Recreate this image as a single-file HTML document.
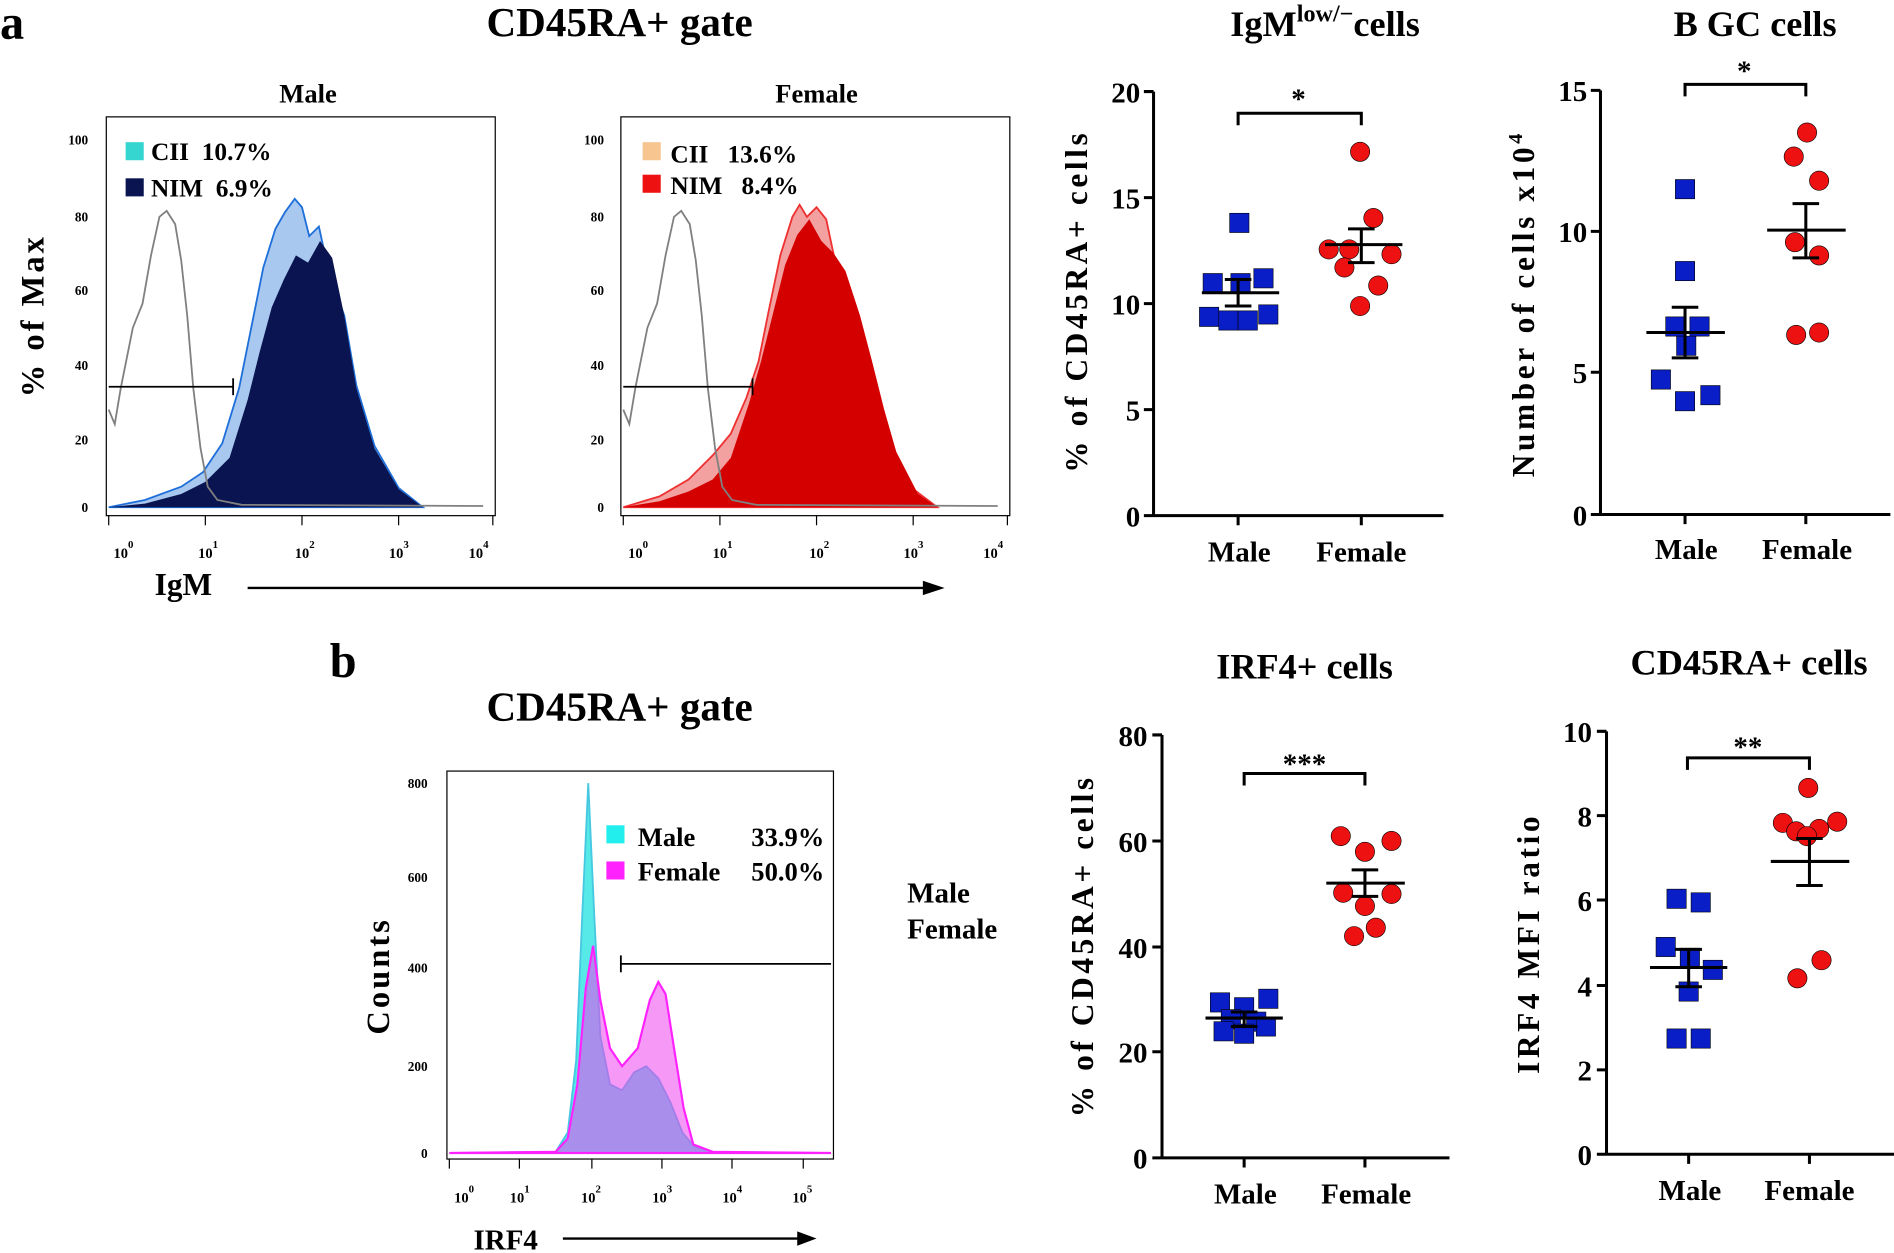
<!DOCTYPE html>
<html><head><meta charset="utf-8"><style>
html,body{margin:0;padding:0;background:#fff;}
svg{display:block;}
text{font-family:"Liberation Serif",serif;font-weight:bold;fill:#000;}
.yl{letter-spacing:2.5px;}
</style></head><body>
<svg width="1894" height="1253" viewBox="0 0 1568 1040" preserveAspectRatio="none" xmlns="http://www.w3.org/2000/svg">
<rect width="1568" height="1040" fill="#fff"/>
<text x="0" y="32" font-size="40">a</text>
<text x="513" y="30" font-size="34" text-anchor="middle">CD45RA+ gate</text>
<text x="255" y="85" font-size="22" text-anchor="middle">Male</text>
<text x="676" y="85" font-size="22" text-anchor="middle">Female</text>
<text class="yl" transform="translate(36,262) rotate(-90)" font-size="27" text-anchor="middle">% of Max</text>

<g>
<path d="M90,421 L120,415 L150,404 L168,392 L184,368 L198,322 L208,272 L218,222 L228,190 L236,176 L244,165 L250,172 L256,196 L264,188 L272,225 L285,262 L295,320 L310,370 L330,405 L350,421 Z" fill="#a9c8ef" stroke="#1e6fd9" stroke-width="1.5"/>
<path d="M90,421 L120,418 L150,410 L170,400 L190,380 L205,332 L215,292 L225,255 L235,232 L245,212 L255,218 L265,200 L275,214 L285,262 L295,322 L310,372 L330,406 L350,421 Z" fill="#0a1450"/>
<path d="M90,340 L95,352 L100,322 L110,272 L118,252 L125,212 L132,180 L138,175 L145,186 L150,216 L155,262 L160,322 L166,372 L172,404 L180,415 L200,419 L400,420" fill="none" stroke="#808080" stroke-width="1.5"/>
<line x1="90" y1="321" x2="193" y2="321" stroke="#000" stroke-width="1.5"/>
<line x1="193" y1="314" x2="193" y2="328" stroke="#000" stroke-width="1.5"/>
<rect x="88" y="97" width="322" height="331" fill="none" stroke="#000" stroke-width="1"/>
<rect x="104" y="118" width="15" height="15" fill="#36d6d0"/>
<text x="125" y="133" font-size="21">CII&#160;&#160;10.7%</text>
<rect x="104" y="148" width="15" height="15" fill="#0a1450"/>
<text x="125" y="163" font-size="21">NIM&#160;&#160;6.9%</text>
<g font-size="11" text-anchor="end" font-weight="normal">
<text x="73" y="120">100</text><text x="73" y="184">80</text><text x="73" y="245">60</text><text x="73" y="307">40</text><text x="73" y="369">20</text><text x="73" y="425">0</text></g>
</g>
<g>
<path d="M516,421 L546,412 L570,398 L590,378 L605,360 L618,330 L628,300 L636,260 L646,212 L656,180 L662,170 L668,180 L676,172 L684,182 L692,220 L704,262 L716,300 L728,340 L742,378 L756,406 L776,421 Z" fill="#f2a0a0" stroke="#ee3030" stroke-width="1.5"/>
<path d="M516,421 L546,416 L570,408 L590,398 L605,380 L620,335 L630,300 L640,260 L650,220 L660,195 L670,182 L680,200 L690,210 L700,225 L712,262 L722,300 L732,340 L742,375 L760,410 L776,421 Z" fill="#d40000"/>
<path d="M516,340 L521,352 L526,322 L536,272 L544,252 L551,212 L558,180 L564,175 L571,186 L576,216 L581,262 L586,322 L592,372 L598,404 L606,415 L626,419 L826,420" fill="none" stroke="#808080" stroke-width="1.5"/>
<line x1="516" y1="321" x2="623" y2="321" stroke="#000" stroke-width="1.5"/>
<line x1="623" y1="314" x2="623" y2="328" stroke="#000" stroke-width="1.5"/>
<rect x="514" y="97" width="322" height="331" fill="none" stroke="#000" stroke-width="1"/>
<rect x="532" y="118" width="15" height="15" fill="#f7c58f"/>
<text x="555" y="135" font-size="21">CII&#160;&#160;&#160;13.6%</text>
<rect x="532" y="145" width="15" height="15" fill="#ee1111"/>
<text x="555" y="161" font-size="21">NIM&#160;&#160;&#160;8.4%</text>
<g font-size="11" text-anchor="end" font-weight="normal">
<text x="500" y="120">100</text><text x="500" y="184">80</text><text x="500" y="245">60</text><text x="500" y="307">40</text><text x="500" y="369">20</text><text x="500" y="425">0</text></g>
</g>
<g font-size="12" font-weight="normal">
<text x="94" y="463">10<tspan dy="-8" font-size="9">0</tspan></text>
<text x="164" y="463">10<tspan dy="-8" font-size="9">1</tspan></text>
<text x="244" y="463">10<tspan dy="-8" font-size="9">2</tspan></text>
<text x="322" y="463">10<tspan dy="-8" font-size="9">3</tspan></text>
<text x="388" y="463">10<tspan dy="-8" font-size="9">4</tspan></text>
<text x="520" y="463">10<tspan dy="-8" font-size="9">0</tspan></text>
<text x="590" y="463">10<tspan dy="-8" font-size="9">1</tspan></text>
<text x="670" y="463">10<tspan dy="-8" font-size="9">2</tspan></text>
<text x="748" y="463">10<tspan dy="-8" font-size="9">3</tspan></text>
<text x="814" y="463">10<tspan dy="-8" font-size="9">4</tspan></text>
</g>
<g stroke="#000" stroke-width="1">
<path d="M90,428v8M170,428v8M250,428v8M330,428v8M408,428v8M516,428v8M596,428v8M676,428v8M756,428v8M834,428v8"/>
</g>
<text x="128" y="494" font-size="26">IgM</text>
<line x1="205" y1="488" x2="770" y2="488" stroke="#000" stroke-width="2"/>
<path d="M782,488 L764,482 L764,494 Z" fill="#000"/>

<text x="273" y="562" font-size="40">b</text>
<text x="513" y="598" font-size="34" text-anchor="middle">CD45RA+ gate</text>
<text class="yl" transform="translate(322,810) rotate(-90)" font-size="27" text-anchor="middle">Counts</text>
<path d="M372,957 L460,956 L470,940 L477,880 L482,760 L487,650 L492,760 L497,860 L505,900 L515,905 L525,890 L535,885 L545,895 L555,915 L565,940 L575,952 L590,956 L688,957 Z" fill="#45e5e5" fill-opacity="0.9" stroke="#45c8e0" stroke-width="1.5"/>
<path d="M372,957 L460,956 L470,945 L478,900 L485,820 L491,785 L497,830 L505,870 L515,885 L528,870 L538,830 L545,815 L551,825 L558,870 L566,920 L574,950 L590,956 L688,957 Z" fill="#ee44ee" fill-opacity="0.55" stroke="#ff22ff" stroke-width="1.8"/>
<line x1="514" y1="800" x2="688" y2="800" stroke="#000" stroke-width="1.5"/>
<line x1="514" y1="793" x2="514" y2="807" stroke="#000" stroke-width="1.5"/>
<rect x="370" y="640" width="320" height="322" fill="none" stroke="#000" stroke-width="1"/>
<rect x="502" y="685" width="15" height="15" fill="#22eeee"/>
<text x="528" y="702" font-size="22">Male</text><text x="622" y="702" font-size="22">33.9%</text>
<rect x="502" y="715" width="15" height="15" fill="#ff22ff"/>
<text x="528" y="731" font-size="22">Female</text><text x="622" y="731" font-size="22">50.0%</text>
<g font-size="11" text-anchor="end" font-weight="normal">
<text x="354" y="654">800</text><text x="354" y="732">600</text><text x="354" y="807">400</text><text x="354" y="889">200</text><text x="354" y="961">0</text></g>
<g font-size="12" font-weight="normal">
<text x="376" y="998">10<tspan dy="-8" font-size="9">0</tspan></text>
<text x="422" y="998">10<tspan dy="-8" font-size="9">1</tspan></text>
<text x="481" y="998">10<tspan dy="-8" font-size="9">2</tspan></text>
<text x="540" y="998">10<tspan dy="-8" font-size="9">3</tspan></text>
<text x="598" y="998">10<tspan dy="-8" font-size="9">4</tspan></text>
<text x="656" y="998">10<tspan dy="-8" font-size="9">5</tspan></text>
</g>
<path d="M372,962v8M430,962v8M490,962v8M548,962v8M606,962v8M665,962v8" stroke="#000"/>
<text x="392" y="1037" font-size="24">IRF4</text>
<line x1="466" y1="1028" x2="664" y2="1028" stroke="#000" stroke-width="2"/>
<path d="M676,1028 L660,1022 L660,1034 Z" fill="#000"/>
<text x="751" y="749" font-size="24">Male</text>
<text x="751" y="779" font-size="24">Female</text>

<g>
<text x="1097" y="30" font-size="30" text-anchor="middle">IgM<tspan dy="-12" font-size="20">low/−</tspan><tspan dy="12">cells</tspan></text>
<text class="yl" transform="translate(900,250) rotate(-90)" font-size="26" text-anchor="middle" style="letter-spacing:3px">% of CD45RA+ cells</text>
<path d="M955,76V428H1195M947,76H955M947,164H955M947,252H955M947,340H955M947,428H955M1025,428v8M1127,428v8" stroke="#000" stroke-width="2.5" fill="none"/>
<g font-size="24" text-anchor="end"><text x="944" y="85">20</text><text x="944" y="173">15</text><text x="944" y="261">10</text><text x="944" y="349">5</text><text x="944" y="437">0</text></g>
<text x="1026" y="466" font-size="24" text-anchor="middle">Male</text><text x="1127" y="466" font-size="24" text-anchor="middle">Female</text>
<path d="M1025,104V94H1127V104" stroke="#000" stroke-width="2.5" fill="none"/><text x="1075" y="90" font-size="24" text-anchor="middle">*</text>
<g fill="#0a1ec8" stroke="#000" stroke-width="0.5">
<rect x="1018" y="177" width="16" height="16"/><rect x="996" y="227" width="16" height="16"/><rect x="1019" y="227" width="16" height="16"/><rect x="1038" y="223" width="16" height="16"/><rect x="993" y="255" width="16" height="16"/><rect x="1009" y="258" width="16" height="16"/><rect x="1025" y="258" width="16" height="16"/><rect x="1042" y="253" width="16" height="16"/></g>
<g fill="#ee1111" stroke="#000" stroke-width="0.5">
<circle cx="1126" cy="126" r="8"/><circle cx="1137" cy="181" r="8"/><circle cx="1100" cy="207" r="8"/><circle cx="1117" cy="207" r="8"/><circle cx="1152" cy="211" r="8"/><circle cx="1113" cy="222" r="8"/><circle cx="1141" cy="237" r="8"/><circle cx="1126" cy="254" r="8"/></g>
<path d="M995,243H1059M1025,232V254M1014,232H1036M1014,254H1036M1097,203H1161M1127,190V218M1116,190H1138M1116,218H1138" stroke="#000" stroke-width="2.5"/>
</g>
<g>
<text x="1453" y="30" font-size="30" text-anchor="middle">B GC cells</text>
<text transform="translate(1270,252) rotate(-90)" font-size="26" text-anchor="middle" style="letter-spacing:3px">Number of cells x10<tspan dy="-10" font-size="17">4</tspan></text>
<path d="M1325,75V427H1565M1317,75H1325M1317,192H1325M1317,309H1325M1317,427H1325M1395,427v8M1495,427v8" stroke="#000" stroke-width="2.5" fill="none"/>
<g font-size="24" text-anchor="end"><text x="1314" y="84">15</text><text x="1314" y="201">10</text><text x="1314" y="318">5</text><text x="1314" y="436">0</text></g>
<text x="1396" y="464" font-size="24" text-anchor="middle">Male</text><text x="1496" y="464" font-size="24" text-anchor="middle">Female</text>
<path d="M1395,80V70H1495V80" stroke="#000" stroke-width="2.5" fill="none"/><text x="1444" y="67" font-size="24" text-anchor="middle">*</text>
<g fill="#0a1ec8" stroke="#000" stroke-width="0.5">
<rect x="1387" y="149" width="16" height="16"/><rect x="1387" y="217" width="16" height="16"/><rect x="1379" y="263" width="16" height="16"/><rect x="1399" y="263" width="16" height="16"/><rect x="1388" y="279" width="16" height="16"/><rect x="1367" y="307" width="16" height="16"/><rect x="1387" y="325" width="16" height="16"/><rect x="1408" y="320" width="16" height="16"/></g>
<g fill="#ee1111" stroke="#000" stroke-width="0.5">
<circle cx="1496" cy="110" r="8"/><circle cx="1485" cy="130" r="8"/><circle cx="1506" cy="150" r="8"/><circle cx="1486" cy="201" r="8"/><circle cx="1506" cy="212" r="8"/><circle cx="1487" cy="278" r="8"/><circle cx="1506" cy="276" r="8"/></g>
<path d="M1363,276H1428M1395,255V297M1384,255H1406M1384,297H1406M1463,191H1528M1495,169V214M1484,169H1506M1484,214H1506" stroke="#000" stroke-width="2.5"/>
</g>
<g>
<text x="1080" y="563" font-size="30" text-anchor="middle">IRF4+ cells</text>
<text transform="translate(905,785) rotate(-90)" font-size="26" text-anchor="middle" style="letter-spacing:3px">% of CD45RA+ cells</text>
<path d="M962,610V961H1200M954,610H962M954,698H962M954,786H962M954,873H962M954,961H962M1030,961v8M1130,961v8" stroke="#000" stroke-width="2.5" fill="none"/>
<g font-size="24" text-anchor="end"><text x="950" y="619">80</text><text x="950" y="707">60</text><text x="950" y="795">40</text><text x="950" y="882">20</text><text x="950" y="970">0</text></g>
<text x="1031" y="999" font-size="24" text-anchor="middle">Male</text><text x="1131" y="999" font-size="24" text-anchor="middle">Female</text>
<path d="M1030,652V642H1130V652" stroke="#000" stroke-width="2.5" fill="none"/><text x="1080" y="642" font-size="24" text-anchor="middle">***</text>
<g fill="#0a1ec8" stroke="#000" stroke-width="0.5">
<rect x="1002" y="824" width="16" height="16"/><rect x="1022" y="828" width="16" height="16"/><rect x="1042" y="821" width="16" height="16"/><rect x="1011" y="838" width="16" height="16"/><rect x="1032" y="840" width="16" height="16"/><rect x="1005" y="848" width="16" height="16"/><rect x="1022" y="850" width="16" height="16"/><rect x="1040" y="844" width="16" height="16"/></g>
<g fill="#ee1111" stroke="#000" stroke-width="0.5">
<circle cx="1110" cy="694" r="8"/><circle cx="1130" cy="707" r="8"/><circle cx="1152" cy="698" r="8"/><circle cx="1112" cy="741" r="8"/><circle cx="1130" cy="752" r="8"/><circle cx="1152" cy="742" r="8"/><circle cx="1139" cy="770" r="8"/><circle cx="1121" cy="777" r="8"/></g>
<path d="M998,845H1062M1030,840V852M1019,840H1041M1019,852H1041M1098,733H1163M1130,722V744M1119,722H1141M1119,744H1141" stroke="#000" stroke-width="2.5"/>
</g>
<g>
<text x="1448" y="560" font-size="30" text-anchor="middle">CD45RA+ cells</text>
<text transform="translate(1274,783) rotate(-90)" font-size="26" text-anchor="middle" style="letter-spacing:3px">IRF4 MFI ratio</text>
<path d="M1330,607V958H1568M1322,607H1330M1322,677H1330M1322,747H1330M1322,818H1330M1322,888H1330M1322,958H1330M1398,958v8M1498,958v8" stroke="#000" stroke-width="2.5" fill="none"/>
<g font-size="24" text-anchor="end"><text x="1318" y="616">10</text><text x="1318" y="686">8</text><text x="1318" y="756">6</text><text x="1318" y="827">4</text><text x="1318" y="897">2</text><text x="1318" y="967">0</text></g>
<text x="1399" y="996" font-size="24" text-anchor="middle">Male</text><text x="1498" y="996" font-size="24" text-anchor="middle">Female</text>
<path d="M1397,639V629H1498V639" stroke="#000" stroke-width="2.5" fill="none"/><text x="1447" y="628" font-size="24" text-anchor="middle">**</text>
<g fill="#0a1ec8" stroke="#000" stroke-width="0.5">
<rect x="1380" y="738" width="16" height="16"/><rect x="1400" y="741" width="16" height="16"/><rect x="1371" y="778" width="16" height="16"/><rect x="1391" y="787" width="16" height="16"/><rect x="1410" y="797" width="16" height="16"/><rect x="1390" y="815" width="16" height="16"/><rect x="1380" y="854" width="16" height="16"/><rect x="1400" y="854" width="16" height="16"/></g>
<g fill="#ee1111" stroke="#000" stroke-width="0.5">
<circle cx="1497" cy="654" r="8"/><circle cx="1476" cy="683" r="8"/><circle cx="1521" cy="682" r="8"/><circle cx="1487" cy="690" r="8"/><circle cx="1506" cy="688" r="8"/><circle cx="1496" cy="694" r="8"/><circle cx="1508" cy="797" r="8"/><circle cx="1488" cy="812" r="8"/></g>
<path d="M1366,803H1430M1398,788V819M1387,788H1409M1387,819H1409M1466,715H1531M1498,696V735M1487,696H1509M1487,735H1509" stroke="#000" stroke-width="2.5"/>
</g>
</svg>
</body></html>
